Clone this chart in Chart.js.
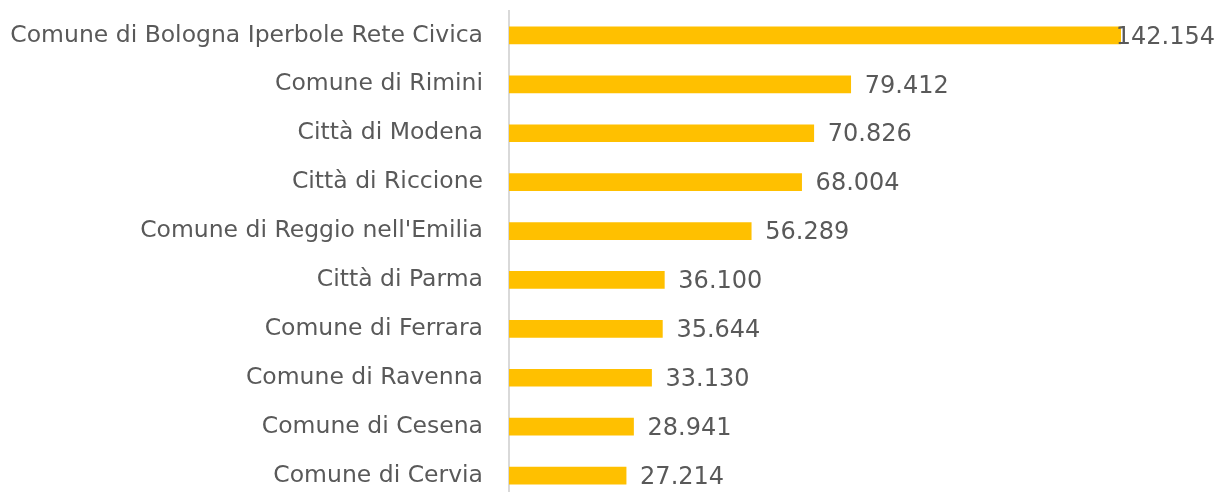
<!DOCTYPE html>
<html>
<head>
<meta charset="utf-8">
<script src="https://cdn.jsdelivr.net/npm/chart.js@4"></script>
<style>
  html, body { margin: 0; padding: 0; background: #fff; overflow: hidden; }
  #wrap { width: 1219px; height: 492px; overflow: hidden; }
  #box { width: 1219px; height: 500px; }
</style>
</head>
<body>
<div id="wrap"><div id="box"><canvas id="chart"></canvas></div></div>
<script>
const categories = [
  "Comune di Bologna Iperbole Rete Civica",
  "Comune di Rimini",
  "Città di Modena",
  "Città di Riccione",
  "Comune di Reggio nell'Emilia",
  "Città di Parma",
  "Comune di Ferrara",
  "Comune di Ravenna",
  "Comune di Cesena",
  "Comune di Cervia"
];
const values = [142154, 79412, 70826, 68004, 56289, 36100, 35644, 33130, 28941, 27214];

const FONT = "'DejaVu Sans', sans-serif";
const TEXT_COLOR = "#595959";

// etichette dei valori in stile italiano (142.154)
function fmt(v) {
  return v.toString().replace(/\B(?=(\d{3})+(?!\d))/g, ".");
}

const valueLabels = {
  id: "valueLabels",
  afterDatasetsDraw(chart) {
    const ctx = chart.ctx;
    const meta = chart.getDatasetMeta(0);
    ctx.save();
    ctx.font = "24px " + FONT;
    ctx.fillStyle = TEXT_COLOR;
    ctx.textBaseline = "middle";
    meta.data.forEach((bar, i) => {
      const text = fmt(values[i]);
      const w = ctx.measureText(text).width;
      let x = bar.x + 14;
      if (x + w > chart.width - 4) x = chart.width - 4 - w;
      ctx.fillText(text, x, bar.y + 2);
    });
    ctx.restore();
  }
};

new Chart(document.getElementById("chart"), {
  type: "bar",
  data: {
    labels: categories,
    datasets: [{
      data: values,
      backgroundColor: "#FFC000",
      barThickness: 17
    }]
  },
  options: {
    indexAxis: "y",
    responsive: true,
    maintainAspectRatio: false,
    animation: false,
    layout: { padding: { top: 11, right: 0, bottom: 0, left: 0 } },
    plugins: { legend: { display: false }, tooltip: { enabled: false } },
    scales: {
      x: { display: false, min: 0, max: 165000 },
      y: {
        afterFit: (scale) => {
          scale.width = 509;
          scale.paddingTop = 0;
          scale.paddingBottom = 0;
        },
        grid: { display: false, drawTicks: false },
        border: { display: true, color: "#d9d9d9", width: 2 },
        ticks: {
          padding: 26,
          color: TEXT_COLOR,
          font: { family: FONT, size: 23.5 }
        }
      }
    }
  },
  plugins: [valueLabels]
});
</script>
</body>
</html>
